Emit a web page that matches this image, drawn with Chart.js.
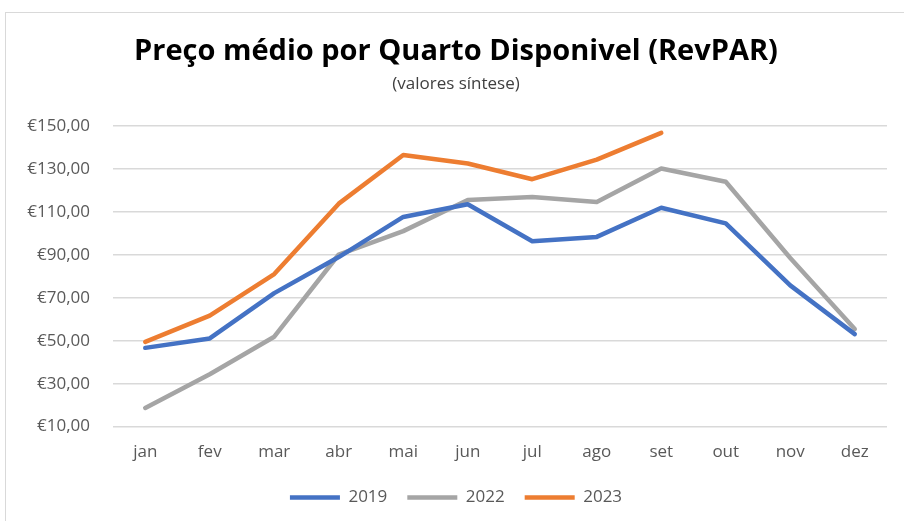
<!DOCTYPE html>
<html lang="pt">
<head>
<meta charset="utf-8">
<script src="https://cdn.jsdelivr.net/npm/chart.js@4.4.1/dist/chart.umd.min.js"></script>
<style>
  html, body { margin: 0; padding: 0; background: #fff; }
  #moldura {
    position: absolute; left: 5px; top: 12px; width: 910px; height: 520px;
    border: 1px solid #d9d9d9; box-sizing: border-box;
  }
  #caixa { position: absolute; left: 0; top: 0; width: 904px; height: 521px; }
</style>
</head>
<body>
<div id="moldura"></div>
<div id="caixa"><canvas id="grafico" width="904" height="521"></canvas></div>
<script>
// Meses e valores do RevPAR (€)
const meses = ["jan", "fev", "mar", "abr", "mai", "jun", "jul", "ago", "set", "out", "nov", "dez"];
const revpar2019 = [46.7, 51.1, 72.2, 89.0, 107.7, 113.6, 96.4, 98.4, 112.0, 104.7, 75.8, 53.1];
const revpar2022 = [18.7, 34.4, 51.9, 90.2, 101.1, 115.6, 117.0, 114.7, 130.3, 124.1, 88.6, 55.5];
const revpar2023 = [49.5, 61.7, 81.1, 113.9, 136.6, 132.6, 125.3, 134.4, 146.9, null, null, null];
const eixoMin = 10;
const eixoMax = 150;
const eixoPasso = 20;

const fonte = "'Open Sans', 'Noto Sans', sans-serif";
const corTexto = "#595959";

function serie(nome, dados, cor) {
    return {
        label: nome,
        data: dados,
        borderColor: cor,
        backgroundColor: cor,
        borderWidth: 4.5,
        borderCapStyle: "round",
        borderJoinStyle: "round",
        pointRadius: 0,
        pointHoverRadius: 0,
        pointStyle: "line",
        tension: 0,
        fill: false,
        spanGaps: false
    };
}

const ctx = document.getElementById("grafico").getContext("2d");
new Chart(ctx, {
    type: "line",
    data: {
        labels: meses,
        datasets: [
            serie("2019", revpar2019, "#4472C4"),
            serie("2022", revpar2022, "#A5A5A5"),
            serie("2023", revpar2023, "#ED7D31")
        ]
    },
    options: {
        responsive: false,
        animation: false,
        layout: { padding: { left: 25, right: 17, top: 34, bottom: 5 } },
        plugins: {
            title: {
                display: true,
                text: "Preço médio por Quarto Disponivel (RevPAR)",
                color: "#000",
                font: { family: fonte, size: 29, weight: "bold" },
                padding: { top: 0, bottom: 5 }
            },
            subtitle: {
                display: true,
                text: "(valores síntese)",
                color: "#404040",
                font: { family: fonte, size: 17 },
                padding: { top: 0, bottom: 32 }
            },
            legend: {
                position: "bottom",
                labels: {
                    usePointStyle: true,
                    pointStyleWidth: 50,
                    boxHeight: 17,
                    padding: 20,
                    color: corTexto,
                    font: { family: fonte, size: 17 }
                }
            },
            tooltip: { enabled: false }
        },
        scales: {
            x: {
                offset: true,
                grid: { display: false },
                border: { display: false },
                ticks: { color: corTexto, font: { family: fonte, size: 17 }, padding: 7 }
            },
            y: {
                min: eixoMin,
                max: eixoMax,
                afterFit: function (escala) { escala.width = 88; },
                grid: { color: "#d9d9d9", lineWidth: 1.5, drawTicks: false },
                border: { display: false },
                ticks: {
                    stepSize: eixoPasso,
                    padding: 23,
                    color: corTexto,
                    font: { family: fonte, size: 17 },
                    callback: function (v) { return "€" + v.toFixed(2).replace(".", ","); }
                }
            }
        }
    }
});
</script>
</body>
</html>
